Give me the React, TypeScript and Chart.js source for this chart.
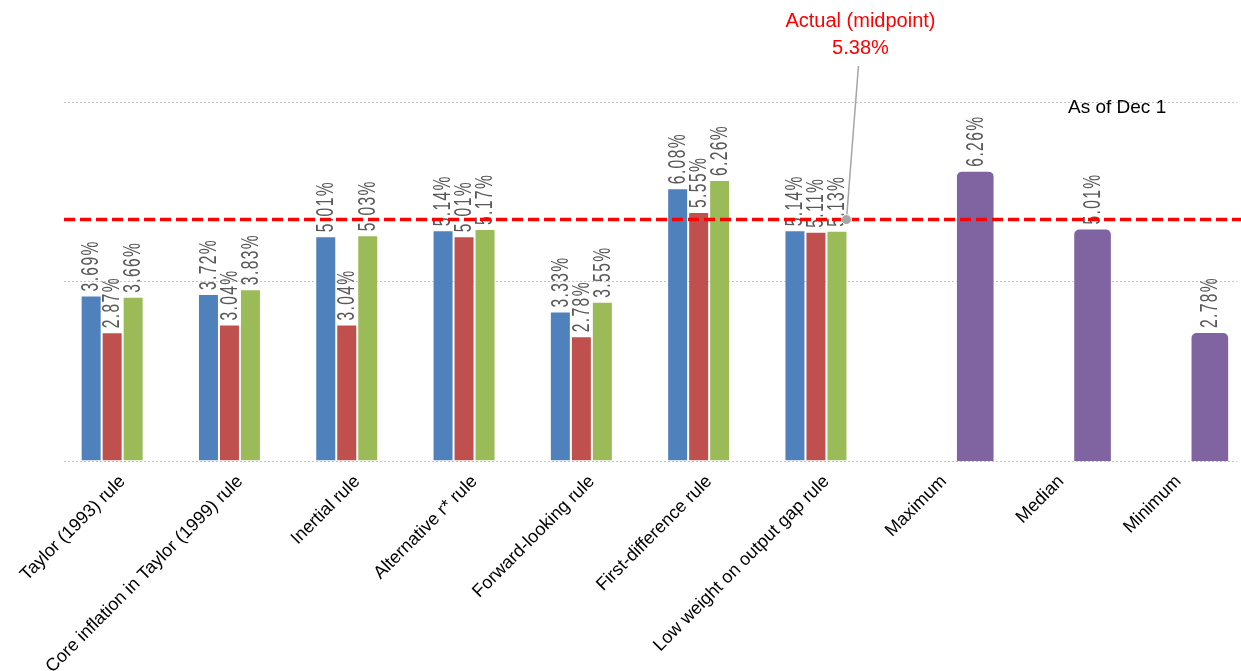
import { useEffect, useRef } from "react";
import { Chart, registerables } from "chart.js";

Chart.register(...registerables);

// Rule names along the category axis
const categories = [
  "Taylor (1993) rule",
  "Core inflation in Taylor (1999) rule",
  "Inertial rule",
  "Alternative r* rule",
  "Forward-looking rule",
  "First-difference rule",
  "Low weight on output gap rule",
  "Maximum",
  "Median",
  "Minimum",
];

// Prescribed policy rates (%) under three input settings
const settingA = [3.69, 3.72, 5.01, 5.14, 3.33, 6.08, 5.14, null, null, null];
const settingB = [2.87, 3.04, 3.04, 5.01, 2.78, 5.55, 5.11, null, null, null];
const settingC = [3.66, 3.83, 5.03, 5.17, 3.55, 6.26, 5.13, null, null, null];

// Summary across all rules (%)
const summary = [null, null, null, null, null, null, null, 6.26, 5.01, 2.78];

// Actual policy rate, midpoint of the target range (%)
const actualRate = 5.38;

// Horizontal gridline positions (%)
const gridTicks = [0, 4, 8];

const SANS = '"Liberation Sans", Arial, sans-serif';

const overlayPlugin = {
  id: "overlay",
  afterDatasetsDraw(chart: any) {
    const { ctx, chartArea, scales } = chart;

    // Vertical value labels above each bar (narrow, slightly tracked)
    ctx.save();
    ctx.font = `23px ${SANS}`;
    ctx.fillStyle = "#595959";
    ctx.textAlign = "left";
    ctx.textBaseline = "middle";
    (ctx as any).letterSpacing = "2px";
    chart.data.datasets.forEach((ds: any, di: number) => {
      const meta = chart.getDatasetMeta(di);
      meta.data.forEach((bar: any, i: number) => {
        const v = ds.data[i];
        if (v == null) return;
        ctx.save();
        ctx.translate(bar.x, bar.y - 4);
        ctx.rotate(-Math.PI / 2);
        ctx.scale(0.68, 1);
        ctx.fillText(v.toFixed(2) + "%", 0, 1);
        ctx.restore();
      });
    });
    ctx.restore();

    // Dashed line at the actual rate
    const yA = scales.y.getPixelForValue(actualRate);
    ctx.save();
    ctx.strokeStyle = "#FF0000";
    ctx.lineWidth = 3.5;
    ctx.setLineDash([11, 5]);
    ctx.beginPath();
    ctx.moveTo(chartArea.left, yA);
    ctx.lineTo(chart.width, yA);
    ctx.stroke();
    ctx.restore();

    // Callout with leader line and marker
    const mx = scales.x.getPixelForValue(6) + 20;
    const tx = mx + 14;
    ctx.save();
    ctx.strokeStyle = "#A6A6A6";
    ctx.lineWidth = 1.5;
    ctx.beginPath();
    ctx.moveTo(mx, yA);
    ctx.lineTo(mx + 12, 66);
    ctx.stroke();
    ctx.fillStyle = "#A6A6A6";
    ctx.strokeStyle = "#FFFFFF";
    ctx.lineWidth = 1;
    ctx.beginPath();
    ctx.arc(mx, yA, 5, 0, Math.PI * 2);
    ctx.fill();
    ctx.stroke();

    ctx.fillStyle = "#FF0000";
    ctx.font = `20px ${SANS}`;
    ctx.textAlign = "center";
    ctx.textBaseline = "middle";
    ctx.fillText("Actual (midpoint)", tx, 21);
    ctx.fillText(actualRate.toFixed(2) + "%", tx, 48);

    // Date note
    ctx.fillStyle = "#000000";
    ctx.font = `19px ${SANS}`;
    ctx.textAlign = "left";
    ctx.textBaseline = "alphabetic";
    ctx.fillText("As of Dec 1", chartArea.right - 169, 113);
    ctx.restore();
  },
};

export default function App() {
  const canvasRef = useRef<HTMLCanvasElement | null>(null);

  useEffect(() => {
    if (!canvasRef.current) return;
    const edge = "rgba(255,255,255,0.45)";
    const chart = new Chart(canvasRef.current, {
      type: "bar",
      data: {
        labels: categories,
        datasets: [
          {
            label: "Setting A",
            data: settingA,
            backgroundColor: "#4F81BD",
            borderColor: edge,
            borderWidth: 1,
            categoryPercentage: 0.716,
            barPercentage: 1,
          },
          {
            label: "Setting B",
            data: settingB,
            backgroundColor: "#C0504D",
            borderColor: edge,
            borderWidth: 1,
            categoryPercentage: 0.716,
            barPercentage: 1,
          },
          {
            label: "Setting C",
            data: settingC,
            backgroundColor: "#9BBB59",
            borderColor: edge,
            borderWidth: 1,
            categoryPercentage: 0.716,
            barPercentage: 1,
          },
          {
            label: "Summary",
            data: summary,
            backgroundColor: "#8064A2",
            borderColor: edge,
            borderWidth: 1,
            borderRadius: 6,
            categoryPercentage: 0.716,
            barPercentage: 1.84,
            yAxisID: "y2",
          },
        ],
      } as any,
      options: {
        animation: false,
        responsive: true,
        maintainAspectRatio: false,
        layout: { padding: { left: 64, right: 4, top: 102, bottom: 0 } },
        plugins: {
          legend: { display: false },
          tooltip: { enabled: false },
        },
        scales: {
          x: {
            grid: { display: false },
            border: { display: false },
            ticks: {
              autoSkip: false,
              maxRotation: 45,
              minRotation: 45,
              color: "#000000",
              font: { family: SANS, size: 18 },
              padding: 2,
            },
            afterFit: (scale: any) => {
              scale.height = 210;
            },
          },
          y: {
            min: 0,
            max: 8,
            ticks: { display: false },
            afterBuildTicks: (scale: any) => {
              scale.ticks = gridTicks.map((v) => ({ value: v }));
            },
            afterFit: (scale: any) => {
              scale.width = 0;
            },
            grid: { color: "#C4C4C4", lineWidth: 1, drawTicks: false },
            border: { display: false, dash: [2, 2] },
          },
          y2: {
            display: false,
            position: "right",
            min: 0,
            max: 7.74,
          },
        },
      } as any,
      plugins: [overlayPlugin],
    });
    return () => chart.destroy();
  }, []);

  return (
    <div style={{ position: "fixed", left: 0, top: 0, width: 1241, height: 671, background: "#fff" }}>
      <canvas ref={canvasRef} />
    </div>
  );
}
